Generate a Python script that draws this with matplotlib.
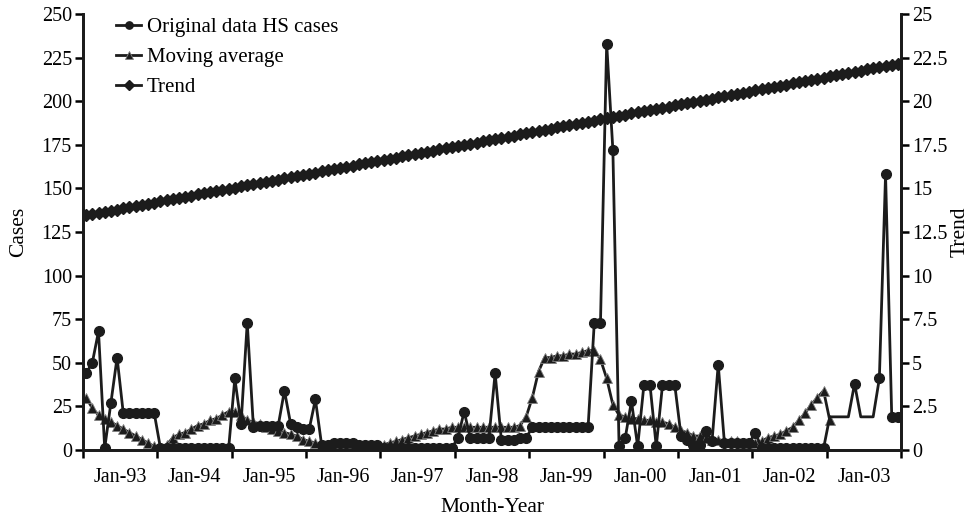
import matplotlib
matplotlib.use("Agg")
import matplotlib.pyplot as plt
import numpy as np

plt.rcParams['font.family'] = ['Liberation Serif', 'DejaVu Serif']

year_labels = ['Jan-93', 'Jan-94', 'Jan-95', 'Jan-96', 'Jan-97', 'Jan-98',
               'Jan-99', 'Jan-00', 'Jan-01', 'Jan-02', 'Jan-03']

original = [44, 50, 68, 1, 27, 53, 21, 21, 21, 21, 21, 21,
            1, 1, 1, 1, 1, 1, 1, 1, 1, 1, 1, 1,
            41, 15, 73, 13, 14, 14, 14, 14, 34, 15, 13, 12,
            12, 29, 3, 3, 4, 4, 4, 4, 3, 3, 3, 3,
            1, 1, 1, 1, 1, 1, 1, 1, 1, 1, 1, 1,
            7, 22, 7, 7, 7, 7, 44, 6, 6, 6, 7, 7,
            13, 13, 13, 13, 13, 13, 13, 13, 13, 13, 73, 73,
            233, 172, 2, 7, 28, 2, 37, 37, 2, 37, 37, 37,
            8, 6, 3, 3, 11, 5, 49, 4, 4, 4, 4, 4,
            10, 1, 1, 1, 1, 1, 1, 1, 1, 1, 1, 1,
            19, 19, 19, 19, 38, 19, 19, 19, 41, 158, 19, 19]

moving_avg = [30, 24, 20, 18, 16, 14, 12, 10, 8, 6, 4, 2,
              1, 3, 7, 9, 10, 12, 14, 15, 17, 18, 20, 22,
              22, 20, 17, 16, 15, 13, 12, 11, 10, 9, 8, 6,
              5, 4, 3, 2, 1, 1, 1, 1, 1, 1, 1, 1,
              3, 4, 5, 6, 7, 8, 9, 10, 11, 12, 12, 13,
              13, 13, 13, 13, 13, 13, 13, 13, 13, 13, 14, 19,
              30, 45, 53, 53, 54, 54, 55, 55, 56, 57, 57, 52,
              41, 26, 20, 19, 18, 18, 17, 17, 16, 16, 15, 13,
              11, 10, 8, 8, 7, 6, 6, 5, 5, 5, 4, 4,
              4, 5, 7, 8, 9, 11, 13, 17, 21, 26, 30, 34,
              17, None, None, None, None, None, None, None, None, None, None, None]

trend = [13.45, 13.52, 13.58, 13.65, 13.72, 13.78, 13.85, 13.91, 13.98, 14.05, 14.11, 14.18,
         14.25, 14.32, 14.38, 14.45, 14.52, 14.58, 14.65, 14.71, 14.78, 14.85, 14.91, 14.98,
         15.04, 15.11, 15.17, 15.24, 15.31, 15.37, 15.44, 15.50, 15.57, 15.64, 15.70, 15.77,
         15.84, 15.91, 15.97, 16.04, 16.11, 16.17, 16.24, 16.30, 16.37, 16.44, 16.50, 16.57,
         16.64, 16.71, 16.77, 16.84, 16.91, 16.97, 17.04, 17.10, 17.17, 17.24, 17.30, 17.37,
         17.43, 17.50, 17.56, 17.63, 17.70, 17.76, 17.83, 17.89, 17.96, 18.03, 18.09, 18.16,
         18.23, 18.30, 18.36, 18.43, 18.50, 18.56, 18.63, 18.69, 18.76, 18.83, 18.89, 18.96,
         19.03, 19.10, 19.16, 19.23, 19.30, 19.36, 19.43, 19.49, 19.56, 19.63, 19.69, 19.76,
         19.82, 19.89, 19.95, 20.02, 20.09, 20.15, 20.22, 20.28, 20.35, 20.42, 20.48, 20.55,
         20.62, 20.69, 20.75, 20.82, 20.89, 20.95, 21.02, 21.08, 21.15, 21.22, 21.28, 21.35,
         21.42, 21.49, 21.55, 21.62, 21.69, 21.75, 21.82, 21.88, 21.95, 22.02, 22.08, 22.15]

# months at the end of the series drawn without circle markers in the source
no_marker = [120, 121, 122, 123, 125, 126, 127]

left_ticks = [0, 25, 50, 75, 100, 125, 150, 175, 200, 225, 250]
right_ticks = [0, 2.5, 5, 7.5, 10, 12.5, 15, 17.5, 20, 22.5, 25]
right_labels = ['0', '2.5', '5', '7.5', '10', '12.5', '15', '17.5', '20', '22.5', '25']

n = len(original)
x = np.arange(n) + 0.5
ma = np.array([np.nan if v is None else v for v in moving_avg], dtype=float)

col = '#1c1c1c'
fig = plt.figure(figsize=(9.72, 5.18), dpi=100)
ax = fig.add_axes([0.0854, 0.1313, 0.8416, 0.8417])
ax2 = ax.twinx()

mk_idx = [i for i in range(n) if i not in no_marker]
l1, = ax.plot(x, original, color=col, lw=2.0, marker='o', ms=7,
              markevery=mk_idx, label='Original data HS cases', zorder=3)
l2, = ax.plot(x, ma, color=col, lw=2.0, marker='^', ms=7.5, mfc=col,
              mec='#808080', mew=0.6, label='Moving average', zorder=2)
l3, = ax2.plot(x, trend, color=col, lw=2.0, marker='D', ms=6.3,
               label='Trend', zorder=3)

ax.set_xlim(0, n)
ax.set_ylim(0, 250)
ax2.set_ylim(0, 25)

ax.set_yticks(left_ticks)
ax.set_yticklabels([str(t) for t in left_ticks])
ax2.set_yticks(right_ticks)
ax2.set_yticklabels(right_labels)

ax.set_xticks(np.arange(0, n + 1, 12), minor=True)
ax.set_xticks(np.arange(6, n, 12))
ax.set_xticklabels(year_labels)
ax.tick_params(axis='x', which='major', length=0, pad=13, labelsize=14.5)
ax.tick_params(axis='x', which='minor', length=6, width=1.8, direction='out')
ax.tick_params(axis='y', length=6, width=1.8, direction='out', labelsize=14.5, pad=2)
ax2.tick_params(axis='y', length=6, width=1.8, direction='out', labelsize=14.5, pad=2)

for a in (ax, ax2):
    a.spines['top'].set_visible(False)
    for s in ('left', 'right', 'bottom'):
        a.spines[s].set_linewidth(2.0)
        a.spines[s].set_color(col)

ax.set_ylabel('Cases', fontsize=15.5, labelpad=10)
ax2.set_ylabel('Trend', fontsize=15.5, labelpad=2)
ax.set_xlabel('Month-Year', fontsize=15.5, labelpad=8)

leg = ax.legend(handles=[l1, l2, l3], loc='upper left',
                bbox_to_anchor=(0.018, 1.035), frameon=False, fontsize=15,
                handlelength=1.2, handletextpad=0.25, labelspacing=0.5,
                markerscale=0.75)

fig.savefig('out.png', dpi=100)
